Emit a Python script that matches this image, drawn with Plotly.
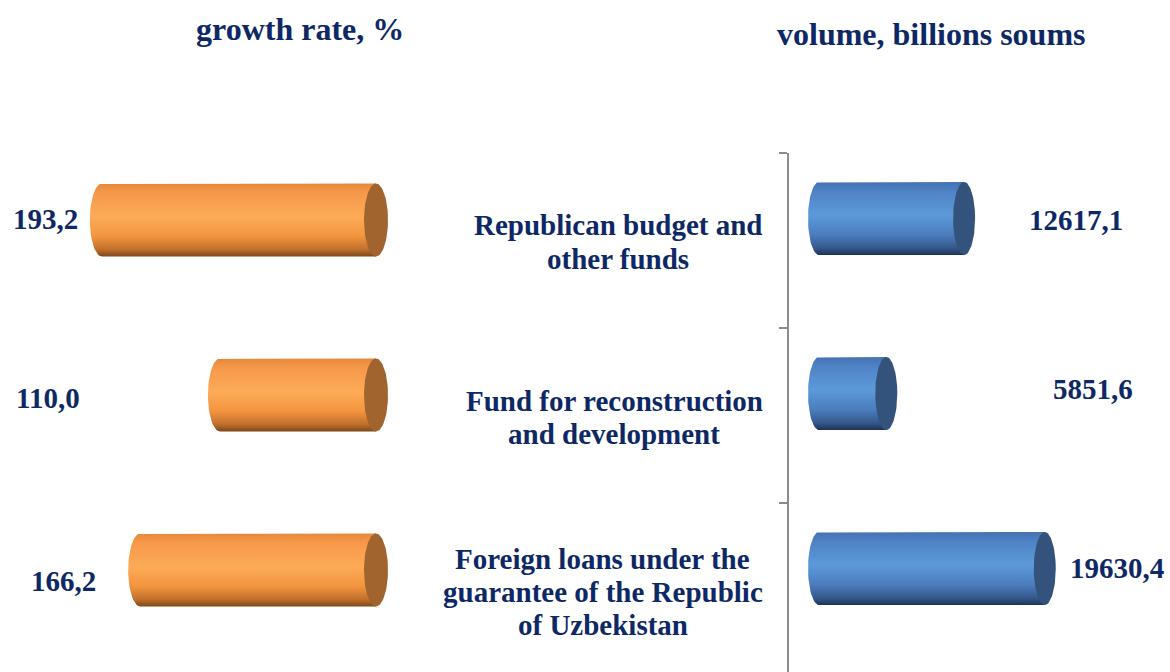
import numpy as np
import plotly.graph_objects as go

# ---- data -------------------------------------------------------------
categories = [
    "Republican budget and<br>other funds",
    "Fund for reconstruction<br>and development",
    "Foreign loans under the<br>guarantee of the Republic<br>of Uzbekistan",
]
growth_rate = [193.2, 110.0, 166.2]          # growth rate, %
volume = [12617.1, 5851.6, 19630.4]          # volume, billions soums

# ---- page geometry (pixels) -------------------------------------------
W, H = 1170, 672
NAVY = "#0d2865"
FONT = "Liberation Serif, Times New Roman, serif"

# left panel: value 0 sits at x=376 px, 1.419 px per percent, bars grow leftwards
L_DOM = (0, 400)
L_ZERO = 376
L_SCALE = 1.419
# right panel: value 0 sits at x=819 px, 0.0115 px per billion soums
R_DOM = (789, W)
R_ZERO = 819
R_SCALE = 0.0115

# category axis: band k is centred at 240.5 + 175*k px, axis starts at 153 px
Y_TOP_PX = 153
BAND_PX = 175
BAND0_PX = 240.5
y_top = (Y_TOP_PX - BAND0_PX) / BAND_PX
y_bot = (H - BAND0_PX) / BAND_PX

BAR_HALF = 36.5 / BAND_PX      # half thickness of a cylinder (y units)
L_SHIFT = -20.5 / BAND_PX      # 3-D offset of cylinders inside each band
R_SHIFT = -22 / BAND_PX
L_CAP = 12 / L_SCALE           # half width of an end ellipse (x units)
R_CAP = 11 / R_SCALE

ORANGE_BODY = [[0, "#e5883a"], [0.12, "#f69849"], [0.45, "#fdab58"],
               [0.72, "#f3953f"], [0.9, "#c2702c"], [1, "#7c481b"]]
ORANGE_CAP = "#a1642e"
BLUE_BODY = [[0, "#4572b2"], [0.14, "#4f84c6"], [0.45, "#5d99d9"],
             [0.72, "#4b7dbd"], [0.9, "#35598d"], [1, "#1e3354"]]
BLUE_CAP = "#33537c"

t_half = np.linspace(0, np.pi, 40)
t_full = np.linspace(0, 2 * np.pi, 80)


def cylinder(value, yc, cap_w, flip):
    """Body outline and front ellipse of a horizontal cylinder from 0 to value.
    flip=True: the cap sits at 0 (bars drawn on a reversed axis)."""
    top, bot = yc - BAR_HALF, yc + BAR_HALF
    if flip:
        # rounded far end at `value`, flat cap at 0
        bx = np.concatenate([[0], value + cap_w * np.sin(t_half), [0]])
        by = np.concatenate([[top], yc - BAR_HALF * np.cos(t_half), [bot]])
        cap_x0 = 0
    else:
        bx = np.concatenate([[value], -cap_w * np.sin(t_half), [value]])
        by = np.concatenate([[top], yc - BAR_HALF * np.cos(t_half), [bot]])
        cap_x0 = value
    cx = cap_x0 + cap_w * np.cos(t_full)
    cy = yc + BAR_HALF * np.sin(t_full)
    return bx, by, cx, cy, top, bot


fig = go.Figure()

for i, v in enumerate(growth_rate):
    bx, by, cx, cy, top, bot = cylinder(v, i + L_SHIFT, L_CAP, True)
    fig.add_trace(go.Scatter(
        x=bx, y=by, xaxis="x", yaxis="y", mode="lines", fill="toself",
        line=dict(width=0, color="rgba(0,0,0,0)"),
        fillgradient=dict(type="vertical", colorscale=ORANGE_BODY, start=top, stop=bot),
        hoverinfo="skip", showlegend=False))
    fig.add_trace(go.Scatter(
        x=cx, y=cy, xaxis="x", yaxis="y", mode="lines", fill="toself",
        fillcolor=ORANGE_CAP, line=dict(width=0, color="rgba(0,0,0,0)"),
        hoverinfo="skip", showlegend=False))

for i, v in enumerate(volume):
    bx, by, cx, cy, top, bot = cylinder(v, i + R_SHIFT, R_CAP, False)
    fig.add_trace(go.Scatter(
        x=bx, y=by, xaxis="x2", yaxis="y", mode="lines", fill="toself",
        line=dict(width=0, color="rgba(0,0,0,0)"),
        fillgradient=dict(type="vertical", colorscale=BLUE_BODY, start=top, stop=bot),
        hoverinfo="skip", showlegend=False))
    fig.add_trace(go.Scatter(
        x=cx, y=cy, xaxis="x2", yaxis="y", mode="lines", fill="toself",
        fillcolor=BLUE_CAP, line=dict(width=0, color="rgba(0,0,0,0)"),
        hoverinfo="skip", showlegend=False))


def fmt(v):
    return f"{v:.1f}".replace(".", ",")


annotations = []


def add_text(text, xpx, ypx, size, xanchor="center"):
    annotations.append(dict(
        text=text, xref="paper", yref="paper", x=xpx / W, y=1 - ypx / H,
        xanchor=xanchor, yanchor="middle", showarrow=False,
        font=dict(family=FONT, size=size, color=NAVY, weight="bold")))


# panel titles
add_text("growth rate, %", 300, 29, 32)
add_text("volume, billions soums", 932, 34, 32)

# value labels
growth_pos = [(45, 219), (48, 398), (63, 581)]
volume_pos = [(1076, 220), (1093, 389), (1117, 568)]
for v, (xp, yp) in zip(growth_rate, growth_pos):
    add_text(fmt(v), xp, yp, 29)
for v, (xp, yp) in zip(volume, volume_pos):
    add_text(fmt(v), xp, yp, 29)

# category labels, one line at a time for a tight line spacing
label_centers = [618, 614, 603]
LINE_PX = 33
for i, (cat, xc) in enumerate(zip(categories, label_centers)):
    lines = cat.split("<br>")
    n = len(lines)
    for j, line in enumerate(lines):
        ypx = BAND0_PX + BAND_PX * i + 1.5 + (j - (n - 1) / 2) * LINE_PX
        add_text(line, xc, ypx, 29)

fig.update_layout(
    width=W, height=H,
    margin=dict(l=0, r=0, t=0, b=0),
    paper_bgcolor="white", plot_bgcolor="white",
    xaxis=dict(domain=[L_DOM[0] / W, L_DOM[1] / W],
               range=[(L_ZERO - L_DOM[0]) / L_SCALE, (L_ZERO - L_DOM[1]) / L_SCALE],
               visible=False, anchor="y", fixedrange=True),
    xaxis2=dict(domain=[R_DOM[0] / W, R_DOM[1] / W],
                range=[(R_DOM[0] - R_ZERO) / R_SCALE, (R_DOM[1] - R_ZERO) / R_SCALE],
                visible=False, anchor="y", fixedrange=True),
    yaxis=dict(domain=[0, 1 - Y_TOP_PX / H], range=[y_bot, y_top], anchor="x2",
               showline=True, linecolor="#8c8c8c", linewidth=2,
               tickvals=[-0.5, 0.5, 1.5], ticks="outside", ticklen=8,
               tickwidth=2, tickcolor="#8c8c8c", showticklabels=False,
               showgrid=False, zeroline=False, fixedrange=True),
    annotations=annotations,
)

fig.write_html("out.html")
